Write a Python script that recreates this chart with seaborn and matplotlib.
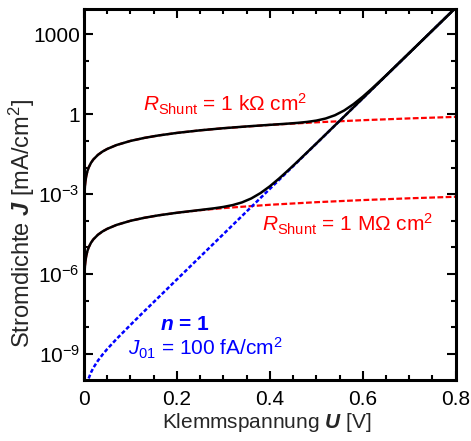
import matplotlib
matplotlib.use("Agg")
import matplotlib.pyplot as plt
import matplotlib.ticker as mticker
import seaborn as sns

# ---------------- data ----------------
# diode only (n = 1, J01 = 100 fA/cm^2), blue dashed
U_diode = [0.01, 0.015, 0.02, 0.03, 0.04, 0.05, 0.07, 0.10, 0.13, 0.16, 0.20,
           0.25, 0.30, 0.35, 0.40, 0.45, 0.50, 0.55, 0.60, 0.65, 0.70, 0.75, 0.80]
J_diode = [1.20e-10, 2.0e-10, 2.99e-10, 5.6e-10, 9.5e-10, 1.53e-9, 3.64e-9, 1.23e-8,
           4.05e-8, 1.31e-7, 6.3e-7, 4.47e-6, 3.16e-5, 2.24e-4, 1.58e-3, 1.12e-2,
           7.9e-2, 0.562, 3.98, 28.2, 200.0, 1413.0, 10000.0]

# shunt only, red dashed
U_shunt = [1e-7, 1e-6, 1e-5, 1e-4, 1e-3, 0.002, 0.003, 0.005, 0.0075, 0.01, 0.015,
           0.02, 0.03, 0.04, 0.05, 0.07, 0.10, 0.13, 0.16, 0.20, 0.25, 0.30, 0.40,
           0.50, 0.60, 0.70, 0.80]
J_shunt_1k = [1e-7, 1e-6, 1e-5, 1e-4, 1e-3, 0.002, 0.003, 0.005, 0.0075, 0.01, 0.015,
              0.02, 0.03, 0.04, 0.05, 0.07, 0.10, 0.13, 0.16, 0.20, 0.25, 0.30, 0.40,
              0.50, 0.60, 0.70, 0.80]
J_shunt_1M = [1e-10, 1e-9, 1e-8, 1e-7, 1e-6, 2e-6, 3e-6, 5e-6, 7.5e-6, 1e-5, 1.5e-5,
              2e-5, 3e-5, 4e-5, 5e-5, 7e-5, 1e-4, 1.3e-4, 1.6e-4, 2e-4, 2.5e-4, 3e-4,
              4e-4, 5e-4, 6e-4, 7e-4, 8e-4]

# total current, black solid
U_tot_1k = [1e-4, 1e-3, 0.002, 0.003, 0.005, 0.0075, 0.01, 0.015, 0.02, 0.03, 0.04,
            0.05, 0.07, 0.10, 0.13, 0.16, 0.20, 0.25, 0.30, 0.35, 0.40, 0.42, 0.44,
            0.46, 0.48, 0.50, 0.52, 0.54, 0.56, 0.58, 0.60, 0.62, 0.65, 0.70, 0.75,
            0.80]
J_tot_1k = [1e-4, 1e-3, 0.002, 0.003, 0.005, 0.0075, 0.01, 0.015, 0.02, 0.03, 0.04,
            0.05, 0.07, 0.10, 0.13, 0.16, 0.20, 0.25, 0.30, 0.3502, 0.4016, 0.4235,
            0.4476, 0.4766, 0.5163, 0.5794, 0.694, 0.920, 1.392, 2.40, 4.58, 9.33,
            28.85, 200.7, 1414.0, 10001.0]

U_tot_1M = [1e-3, 2e-3, 0.003, 0.005, 0.0075, 0.01, 0.015, 0.02, 0.03, 0.04, 0.05, 0.07,
            0.10, 0.13, 0.16, 0.20, 0.25, 0.28, 0.30, 0.32, 0.34, 0.36, 0.38, 0.40,
            0.42, 0.44, 0.46, 0.50, 0.55, 0.60, 0.65, 0.70, 0.75, 0.80]
J_tot_1M = [1e-6, 2e-6, 3e-6, 5e-6, 7.5e-6, 1e-5, 1.5e-5, 2e-5, 3e-5, 4e-5, 5e-5, 7e-5,
            1e-4, 1.3e-4, 1.6013e-4, 2.006e-4, 2.545e-4, 2.945e-4, 3.316e-4, 3.892e-4,
            4.91e-4, 6.91e-4, 1.104e-3, 1.98e-3, 3.89e-3, 8.03e-3, 1.706e-2,
            7.99e-2, 0.563, 3.98, 28.2, 200.0, 1413.0, 10000.0]

x_ticks = [0, 0.2, 0.4, 0.6, 0.8]
x_ticklabels = ["0", "0.2", "0.4", "0.6", "0.8"]
y_major = [1e-9, 1e-6, 1e-3, 1, 1e3]
y_ticklabels = [r"$10^{-9}$", r"$10^{-6}$", r"$10^{-3}$", "1", "1000"]
y_minor = [1e-10, 1e-8, 1e-7, 1e-5, 1e-4, 1e-2, 1e-1, 10, 100, 1e4]

# ---------------- style ----------------
sns.set_style("ticks")
plt.rcParams["font.family"] = ["Liberation Sans", "DejaVu Sans"]
plt.rcParams["mathtext.fontset"] = "custom"
plt.rcParams["mathtext.rm"] = "Liberation Sans"
plt.rcParams["mathtext.it"] = "Liberation Sans:italic"
plt.rcParams["mathtext.bf"] = "Liberation Sans:bold"
plt.rcParams["mathtext.bfit"] = "Liberation Sans:bold:italic"
plt.rcParams["axes.unicode_minus"] = True

fig = plt.figure(figsize=(4.71, 4.41), dpi=100)
ax = fig.add_axes([84 / 471, 1 - 380 / 441, (455.7 - 84) / 471, (380 - 9) / 441])

RED = "#ff0000"
BLUE = "#0000ff"

sns.lineplot(x=U_shunt, y=J_shunt_1k, ax=ax, color=RED, lw=1.6,
             linestyle=(0, (2.6, 1.1)), sort=False, estimator=None, zorder=2)
sns.lineplot(x=U_shunt, y=J_shunt_1M, ax=ax, color=RED, lw=1.6,
             linestyle=(0, (2.6, 1.1)), sort=False, estimator=None, zorder=2)
sns.lineplot(x=U_diode, y=J_diode, ax=ax, color=BLUE, lw=1.8,
             linestyle=(0, (1.6, 0.9)), sort=False, estimator=None, zorder=2)
sns.lineplot(x=U_tot_1k, y=J_tot_1k, ax=ax, color="black", lw=1.8,
             sort=False, estimator=None, zorder=3)
sns.lineplot(x=U_tot_1M, y=J_tot_1M, ax=ax, color="black", lw=1.8,
             sort=False, estimator=None, zorder=3)

ax.set_yscale("log")
ax.set_xlim(0, 0.8)
ax.set_ylim(1.05e-10, 9.0e3)

ax.xaxis.set_major_locator(mticker.FixedLocator(x_ticks))
ax.xaxis.set_major_formatter(mticker.FixedFormatter(x_ticklabels))
ax.xaxis.set_minor_locator(mticker.MultipleLocator(0.05))
ax.yaxis.set_major_locator(mticker.FixedLocator(y_major))
ax.yaxis.set_major_formatter(mticker.FixedFormatter(y_ticklabels))
ax.yaxis.set_minor_locator(mticker.FixedLocator(y_minor))
ax.yaxis.set_minor_formatter(mticker.NullFormatter())

ax.tick_params(which="both", direction="in", top=True, right=True,
               width=1.5, colors="black", labelsize=15)
ax.tick_params(which="major", length=6.5)
ax.tick_params(which="minor", length=3.5)
ax.tick_params(axis="x", pad=7)
ax.tick_params(axis="y", pad=3)
for s in ax.spines.values():
    s.set_linewidth(2.2)
    s.set_color("black")

ax.set_xlabel(r"Klemmspannung $\mathbfit{U}$ [V]", fontsize=15)
ax.set_ylabel(r"Stromdichte $\mathbfit{J}$ [mA/cm$^2$]", fontsize=17)
ax.xaxis.set_label_coords(0.492, -0.084)
ax.yaxis.set_label_coords(-0.127, 0.423)

ax.text(0.127, 10 ** 0.36, r"$\mathit{R}_{\mathrm{Shunt}}$ = 1 kΩ cm$^2$",
        color=RED, fontsize=15, va="center", ha="left")
ax.text(0.383, 7.5e-5, r"$\mathit{R}_{\mathrm{Shunt}}$ = 1 MΩ cm$^2$",
        color=RED, fontsize=15, va="center", ha="left")
ax.text(0.1636, 1.33e-8, r"$\mathbfit{n}$ = 1", color=BLUE, fontsize=15,
        fontweight="bold", va="center", ha="left")
ax.text(0.0947, 1.68e-9, r"$\mathit{J}_{\mathrm{01}}$ = 100 fA/cm$^2$",
        color=BLUE, fontsize=15, va="center", ha="left")

fig.savefig("out.png", dpi=100)
